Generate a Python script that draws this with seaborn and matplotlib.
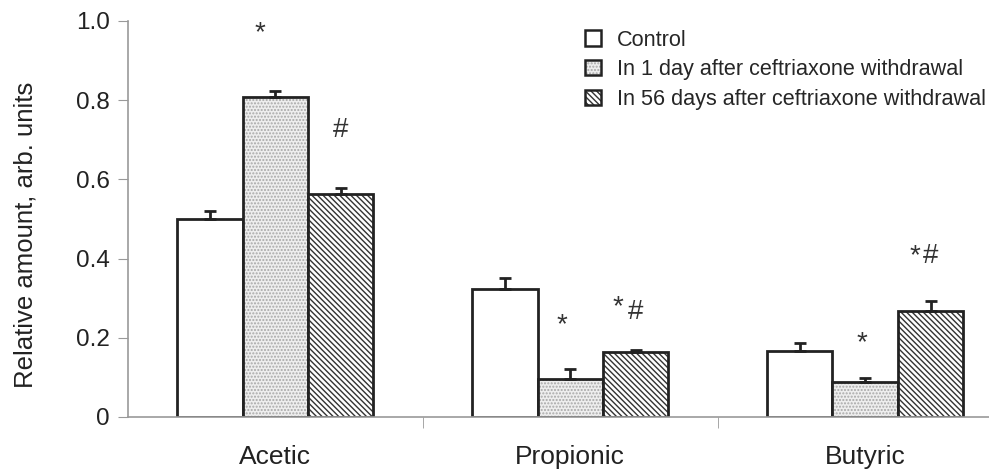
import numpy as np
import pandas as pd
import seaborn as sns
import matplotlib.pyplot as plt
from matplotlib.patches import Patch

# data
acids = ['Acetic', 'Propionic', 'Butyric']
groups = ['Control',
          'In 1 day after ceftriaxone withdrawal',
          'In 56 days after ceftriaxone withdrawal']
control = [0.50, 0.323, 0.167]
day1 = [0.808, 0.096, 0.088]
day56 = [0.563, 0.164, 0.268]
control_err = [0.02, 0.028, 0.020]
day1_err = [0.015, 0.025, 0.010]
day56_err = [0.015, 0.005, 0.025]
# significance marks: (acid, group index, glyph, y, x shift in points)
marks = [
    ('Acetic', 1, '*', 0.977, -11),
    ('Acetic', 2, '#', 0.725, 0),
    ('Propionic', 1, '*', 0.24, -6),
    ('Propionic', 2, '*', 0.283, -13),
    ('Propionic', 2, '#', 0.265, 0),
    ('Butyric', 1, '*', 0.194, -2),
    ('Butyric', 2, '*', 0.414, -11),
    ('Butyric', 2, '#', 0.407, 0),
]

rows = []
for g, vals, errs in zip(groups, [control, day1, day56], [control_err, day1_err, day56_err]):
    for a, v, e in zip(acids, vals, errs):
        rows.append({'acid': a, 'group': g, 'value': v, 'err': e})
df = pd.DataFrame(rows)

sns.set_style('white')
plt.rcParams['font.family'] = ['Liberation Sans', 'DejaVu Sans']
plt.rcParams['hatch.linewidth'] = 1.0

fig = plt.figure(figsize=(9.89, 4.70), dpi=100)
ax = fig.add_axes([0.1294, 0.1128, 0.8706, 0.8426])

sns.barplot(data=df, x='acid', y='value', hue='group', order=acids,
            hue_order=groups, errorbar=None, width=0.665, gap=0,
            palette=['white', 'white', 'white'], edgecolor='#222222',
            linewidth=2, legend=False, ax=ax)

styles = [('white', ''), ('#eeeeee', '.....'), ('white', '\\\\\\\\\\\\')]
hatch_cols = ['#222222', '#a8a8a8', '#333333']
bar_conts = list(ax.containers)
for gi, cont in enumerate(bar_conts):
    fc, h = styles[gi]
    sub = df[df['group'] == groups[gi]].set_index('acid').loc[acids]
    xs = []
    for bar in cont:
        bar.set_facecolor(fc)
        bar.set_hatch(h)
        bar._hatch_color = plt.matplotlib.colors.to_rgba(hatch_cols[gi])
        xs.append(bar.get_x() + bar.get_width() / 2)
    ax.errorbar(xs, sub['value'], yerr=[np.zeros(len(xs)), sub['err']],
                fmt='none', ecolor='#222222', elinewidth=2, capsize=4,
                capthick=2, zorder=3)
    for a, g, lab, y, dx in marks:
        if g == gi:
            x = xs[acids.index(a)]
            if lab == '*':
                y = y - 0.007
            ax.annotate(lab, (x, y), xytext=(dx, 0), textcoords='offset points',
                        ha='center', va='center', fontsize=20,
                        color='#333333')

ax.set_xlim(-0.5, 2.42)
ax.set_ylim(0, 1.0)
ax.set_yticks([0, 0.2, 0.4, 0.6, 0.8, 1.0])
ax.set_yticklabels(['0', '0.2', '0.4', '0.6', '0.8', '1.0'])
ax.set_xticks([0.5, 1.5], minor=True)
ax.tick_params(axis='x', which='major', length=0, pad=20, labelsize=19,
               colors='#222222')
ax.tick_params(axis='x', which='minor', length=8, direction='out',
               color='#999999', bottom=True)
ax.tick_params(axis='y', length=7, direction='out', color='#999999',
               left=True, labelsize=17.5, labelcolor='#222222', pad=6)
ax.set_xlabel('')
ax.set_ylabel('Relative amount, arb. units', fontsize=18.5, color='#222222')
ax.yaxis.set_label_coords(-0.105, 0.46)
for s in ['top', 'right']:
    ax.spines[s].set_visible(False)
for s in ['left', 'bottom']:
    ax.spines[s].set_color('#999999')
    ax.spines[s].set_linewidth(1.2)

handles = []
for gi, (fc, h) in enumerate(styles):
    p = Patch(facecolor=fc, hatch=h, edgecolor='#222222', linewidth=1.8)
    p._hatch_color = plt.matplotlib.colors.to_rgba(hatch_cols[gi])
    handles.append(p)
ax.legend(handles, groups, loc='upper left', bbox_to_anchor=(0.521, 1.0),
          frameon=False, fontsize=15.6, handlelength=0.72, handleheight=0.72,
          handletextpad=0.75, labelspacing=0.4, borderaxespad=0)

fig.savefig('out.png', dpi=100)
